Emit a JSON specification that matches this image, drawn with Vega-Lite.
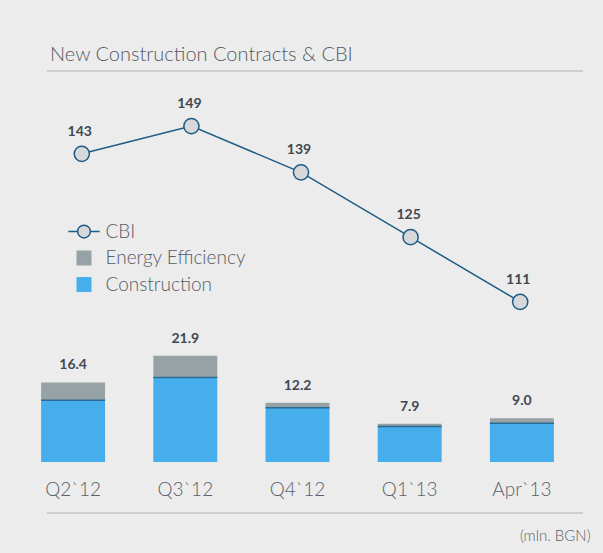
{
  "$schema": "https://vega.github.io/schema/vega-lite/v6.json",
  "width": 536,
  "height": 442,
  "autosize": {"type": "none"},
  "padding": {"left": 47, "top": 71, "right": 20, "bottom": 40},
  "background": "#ececec",
  "title": {"text": "New Construction Contracts & CBI", "anchor": "start", "frame": "group", "dx": 3, "dy": 25, "offset": 14, "baseline": "alphabetic", "font": "Lato", "fontSize": 20, "fontWeight": 300, "color": "#555b64"},
  "config": {"view": {"stroke": null}, "font": "Lato"},
  "datasets": {
    "bars": [
      {"period": "Q2`12", "type": "Construction", "value": 12.7},
      {"period": "Q2`12", "type": "Energy Efficiency", "value": 3.7},
      {"period": "Q3`12", "type": "Construction", "value": 17.4},
      {"period": "Q3`12", "type": "Energy Efficiency", "value": 4.5},
      {"period": "Q4`12", "type": "Construction", "value": 11.2},
      {"period": "Q4`12", "type": "Energy Efficiency", "value": 1.0},
      {"period": "Q1`13", "type": "Construction", "value": 7.3},
      {"period": "Q1`13", "type": "Energy Efficiency", "value": 0.6},
      {"period": "Apr`13", "type": "Construction", "value": 8.0},
      {"period": "Apr`13", "type": "Energy Efficiency", "value": 1.0}
    ],
    "cbi": [
      {"period": "Q2`12", "cbi": 143},
      {"period": "Q3`12", "cbi": 149},
      {"period": "Q4`12", "cbi": 139},
      {"period": "Q1`13", "cbi": 125},
      {"period": "Apr`13", "cbi": 111}
    ]
  },
  "layer": [
    {
      "data": {"name": "bars"},
      "encoding": {
        "x": {
          "field": "period",
          "type": "nominal",
          "sort": ["Q2`12", "Q3`12", "Q4`12", "Q1`13", "Apr`13"],
          "scale": {"range": [-30, 531], "paddingInner": 0.43, "paddingOuter": 0.215},
          "axis": {
            "orient": "bottom",
            "title": "(mln. BGN)",
            "domain": false,
            "ticks": false,
            "tickSize": 0,
            "labelPadding": -18,
            "labelBaseline": "alphabetic",
            "labelFontSize": 19,
            "labelFont": "Lato",
            "labelFontWeight": 300,
            "labelColor": "#5a616a",
            "labelAngle": 0,
            "titleFont": "Lato",
            "titleFontSize": 15,
            "titleFontWeight": 300,
            "titleColor": "#5a616a",
            "titleAlign": "right",
            "titleBaseline": "alphabetic",
            "titleX": 543,
            "titleY": 27
          }
        }
      },
      "layer": [
        {
          "mark": {"type": "bar"},
          "encoding": {
            "y": {
              "field": "value",
              "type": "quantitative",
              "stack": "zero",
              "scale": {"domain": [-10.52, 80.6], "nice": false, "zero": false},
              "axis": null
            },
            "color": {
              "field": "type",
              "type": "nominal",
              "scale": {"domain": ["CBI", "Energy Efficiency", "Construction"], "range": ["#d6d8da", "#97a2a7", "#46aeea"]},
              "legend": {
                "title": null,
                "orient": "none",
                "legendX": 27.5,
                "legendY": 151,
                "padding": 0,
                "symbolSize": 225,
                "symbolType": "square",
                "labelFontSize": 19,
                "labelFont": "Lato",
                "labelFontWeight": 300,
                "labelColor": "#555d66",
                "labelOffset": 12,
                "rowPadding": 5.5,
                "labelLimit": 300,
                "encode": {
                  "symbols": {
                    "update": {
                      "shape": {"signal": "datum.value === 'CBI' ? 'M-2.1,0H-0.85M0.85,0H2.1M-0.85,0A0.85,0.85 0 1,0 0.85,0A0.85,0.85 0 1,0 -0.85,0Z' : 'square'"},
                      "stroke": {"signal": "datum.value === 'CBI' ? '#1d5c86' : 'transparent'"},
                      "strokeWidth": {"value": 1.5},
                      "opacity": {"value": 1}
                    }
                  }
                }
              }
            },
            "order": {"field": "type", "sort": "ascending"}
          }
        },
        {
          "transform": [{"filter": "datum.type === 'Construction'"}],
          "mark": {"type": "tick", "color": "#2a6b95", "thickness": 1.5, "size": 64, "opacity": 1},
          "encoding": {
            "y": {"field": "value", "type": "quantitative", "scale": {"domain": [-10.52, 80.6], "nice": false, "zero": false}}
          }
        },
        {
          "transform": [{"aggregate": [{"op": "sum", "field": "value", "as": "total"}], "groupby": ["period"]}],
          "mark": {"type": "text", "baseline": "alphabetic", "dy": -13, "fontSize": 14, "fontWeight": "bold", "font": "Lato", "color": "#3f4852"},
          "encoding": {
            "y": {"field": "total", "type": "quantitative", "scale": {"domain": [-10.52, 80.6], "nice": false, "zero": false}},
            "text": {"field": "total", "type": "quantitative", "format": ".1f"}
          }
        }
      ]
    },
    {
      "data": {"name": "cbi"},
      "encoding": {
        "x": {
          "field": "period",
          "type": "nominal",
          "sort": ["Q2`12", "Q3`12", "Q4`12", "Q1`13", "Apr`13"],
          "scale": {"range": [-20, 528], "paddingInner": 0.43, "paddingOuter": 0.215},
          "axis": null
        }
      },
      "layer": [
        {
          "mark": {"type": "line", "strokeWidth": 1.5, "stroke": "#1d5c86"},
          "encoding": {
            "y": {"field": "cbi", "type": "quantitative", "scale": {"domain": [65.4, 160.9], "nice": false, "zero": false}, "axis": null}
          }
        },
        {
          "mark": {"type": "point", "filled": true, "fill": "#d6d8da", "stroke": "#1d5c86", "strokeWidth": 1.5, "size": 230, "opacity": 1},
          "encoding": {
            "y": {"field": "cbi", "type": "quantitative", "scale": {"domain": [65.4, 160.9], "nice": false, "zero": false}, "axis": null}
          }
        },
        {
          "mark": {"type": "text", "baseline": "alphabetic", "dy": -18, "dx": -2, "fontSize": 14, "fontWeight": "bold", "font": "Lato", "color": "#3f4852"},
          "encoding": {
            "y": {"field": "cbi", "type": "quantitative", "scale": {"domain": [65.4, 160.9], "nice": false, "zero": false}, "axis": null},
            "text": {"field": "cbi", "type": "quantitative"}
          }
        }
      ]
    },
    {
      "data": {"values": [{}]},
      "layer": [
        {
          "mark": {"type": "rule", "color": "#c3c5cc", "strokeWidth": 1.5},
          "encoding": {"y": {"datum": 1, "type": "quantitative", "scale": {"domain": [0, 1], "nice": false}, "axis": null}}
        },
        {
          "mark": {"type": "rule", "color": "#c3c5cc", "strokeWidth": 1.5},
          "encoding": {"y": {"datum": 0, "type": "quantitative", "scale": {"domain": [0, 1], "nice": false}, "axis": null}}
        }
      ]
    }
  ],
  "resolve": {"scale": {"y": "independent", "x": "independent"}}
}
